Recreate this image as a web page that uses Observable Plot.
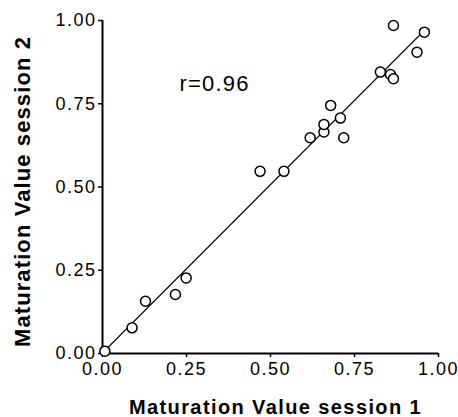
<!DOCTYPE html>
<html>
<head>
<meta charset="utf-8">
<script src="https://cdn.jsdelivr.net/npm/d3@7"></script>
<script src="https://cdn.jsdelivr.net/npm/@observablehq/plot@0.6"></script>
<style>
  html, body { margin: 0; padding: 0; background: white; }
  #chart svg { display: block; }
  g[aria-label="y-axis tick label"] text,
  g[aria-label="x-axis tick label"] text { letter-spacing: 1.5px; }
  .xtitle text { letter-spacing: 1.4px; }
  .ytitle text { letter-spacing: 1.1px; }
  .rlabel text { letter-spacing: 1.2px; }
</style>
</head>
<body>
<div id="chart"></div>
<script>
// Data
const session1 = [0.007, 0.088, 0.128, 0.217, 0.249, 0.469, 0.540, 0.618, 0.659, 0.659, 0.679, 0.708, 0.718, 0.827, 0.857, 0.866, 0.866, 0.936, 0.958];
const session2 = [0.007, 0.077, 0.157, 0.177, 0.227, 0.547, 0.547, 0.648, 0.665, 0.688, 0.745, 0.707, 0.648, 0.845, 0.838, 0.825, 0.985, 0.905, 0.965];
const tickValues = [0, 0.25, 0.5, 0.75, 1];
const xTitle = ["Maturation Value session 1"];
const yTitle = ["Maturation Value session 2"];
const annotation = ["r=0.96"];

const data = session1.map((v, i) => ({x: v, y: session2[i]}));
const fmt = d3.format(".2f");

const chart = Plot.plot({
  width: 458,
  height: 417,
  marginLeft: 102,
  marginRight: 20,
  marginTop: 20,
  marginBottom: 64,
  style: {fontFamily: "'Liberation Sans', Arial, sans-serif", background: "white", color: "black"},
  x: {domain: [0, 1]},
  y: {domain: [0, 1]},
  marks: [
    Plot.axisY({ticks: tickValues, tickFormat: fmt, tickSize: 4, tickPadding: 2, fontSize: 18, label: null, strokeWidth: 1.5}),
    Plot.axisX({ticks: tickValues, tickFormat: fmt, tickSize: 4, tickPadding: 5, fontSize: 18, label: null, strokeWidth: 1.5}),
    Plot.ruleX([0], {strokeWidth: 2}),
    Plot.ruleY([0], {strokeWidth: 2}),
    Plot.linearRegressionY(data, {x: "x", y: "y", ci: 0, stroke: "black", strokeWidth: 1.4}),
    Plot.dot(data, {x: "x", y: "y", r: 5, fill: "white", stroke: "black", strokeWidth: 1.5}),
    Plot.text(annotation, {frameAnchor: "top-left", text: d => d, textAnchor: "start", lineAnchor: "middle", dx: 77, dy: 63, fontSize: 22, className: "rlabel"}),
    Plot.text(xTitle, {frameAnchor: "bottom", text: d => d, textAnchor: "middle", lineAnchor: "bottom", dx: 5, dy: 60, fontSize: 20, fontWeight: "bold", className: "xtitle"}),
    Plot.text(yTitle, {frameAnchor: "left", text: d => d, rotate: -90, textAnchor: "middle", lineAnchor: "bottom", dx: -73, dy: 4.5, fontSize: 22, fontWeight: "bold", className: "ytitle"})
  ]
});
document.getElementById("chart").appendChild(chart);
</script>
</body>
</html>
